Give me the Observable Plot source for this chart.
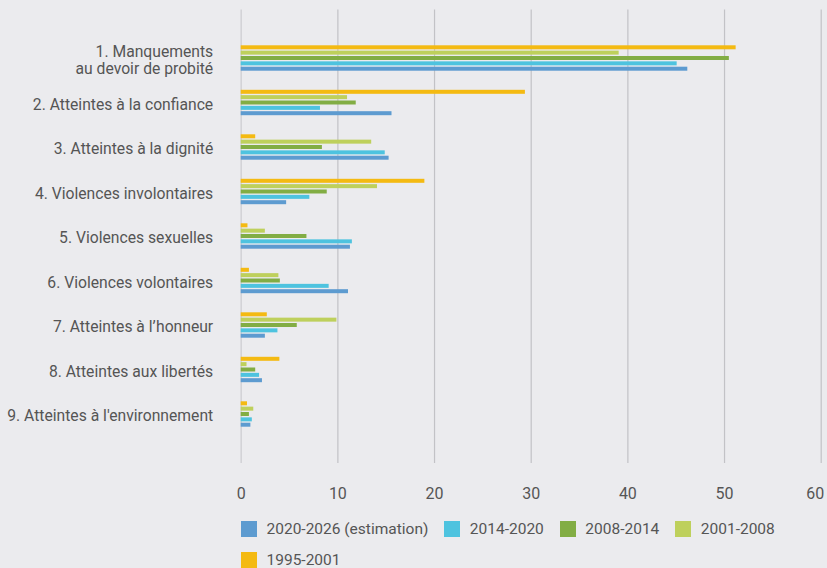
<!DOCTYPE html>
<html>
<head>
<meta charset="utf-8">
<script src="https://cdn.jsdelivr.net/npm/d3@7"></script>
<script src="https://cdn.jsdelivr.net/npm/@observablehq/plot@0.6"></script>
<style>
  html, body { margin: 0; padding: 0; background: #ebebee; }
  #chart { width: 827px; height: 568px; overflow: hidden; font-family: Roboto, sans-serif; }
  #legend { margin-left: 241px; margin-top: 4px; width: 586px; }
  .lg-swatches-wrap { display: flex; flex-wrap: wrap; align-items: center; min-height: 0 !important; }
  .lg-swatch { height: 30.5px; margin-right: 16px !important; font-family: Roboto, sans-serif; font-size: 15.5px; color: #555; }
  .lg-swatch svg { margin-right: 9.5px !important; }
</style>
</head>
<body>
<div id="chart"></div>
<script>
const categories = [
  "1. Manquements\nau devoir de probité",
  "2. Atteintes à la confiance",
  "3. Atteintes à la dignité",
  "4. Violences involontaires",
  "5. Violences sexuelles",
  "6. Violences volontaires",
  "7. Atteintes à l\u2019honneur",
  "8. Atteintes aux libertés",
  "9. Atteintes à l'environnement"
];
// series in legend order
const seriesNames = ["2020-2026 (estimation)", "2014-2020", "2008-2014", "2001-2008", "1995-2001"];
const colors = ["#5d9bd0", "#4ec3df", "#82ad44", "#bed05c", "#f4ba12"];

const v2020_2026 = [46.2, 15.6, 15.3, 4.7, 11.3, 11.1, 2.5, 2.2, 1.0];
const v2014_2020 = [45.1, 8.2, 14.9, 7.1, 11.5, 9.1, 3.8, 1.9, 1.15];
const v2008_2014 = [50.5, 11.9, 8.4, 8.9, 6.8, 4.05, 5.8, 1.5, 0.85];
const v2001_2008 = [39.1, 11.0, 13.5, 14.1, 2.5, 3.9, 9.9, 0.6, 1.3];
const v1995_2001 = [51.2, 29.4, 1.5, 19.0, 0.7, 0.85, 2.7, 4.0, 0.65];

const xTicks = [0, 10, 20, 30, 40, 50, 60];

const seriesValues = [v2020_2026, v2014_2020, v2008_2014, v2001_2008, v1995_2001];
const rows = [];
seriesNames.forEach((s, si) => {
  categories.forEach((c, ci) => rows.push({series: s, category: c, value: seriesValues[si][ci]}));
});

// vertical layout: top-to-bottom order within group is reversed legend order
const step = 44.5, barH = 4, barStep = 5.35, groupTop = 9.55;
const barMarks = seriesNames.map((s, si) => {
  const pos = seriesNames.length - 1 - si; // 0 = top (1995-2001)
  const insetTop = groupTop + barStep * pos;
  const insetBottom = step - insetTop - barH;
  return Plot.barX(rows.filter(d => d.series === s), {
    x: "value", y: "category", fill: "series", insetTop, insetBottom
  });
});

const lastTick = xTicks[xTicks.length - 1];

const chart = Plot.plot({
  width: 827,
  height: 510,
  marginLeft: 240.7,
  marginRight: 6.3,
  marginTop: 9.5,
  marginBottom: 47,
  style: {background: "transparent", fontFamily: "Roboto, sans-serif", fontSize: "16px", color: "#555"},
  x: {domain: [0, 60], label: null},
  y: {domain: categories, range: [35.75, 436.25], padding: 0, round: false, label: null},
  color: {domain: seriesNames, range: colors},
  marks: [
    Plot.ruleX(xTicks.filter(t => t !== 0), {stroke: "#c2c2c6", strokeWidth: 1.2}),
    Plot.ruleX([0], {stroke: "#d3d3d7", strokeWidth: 1.6}),
    ...barMarks,
    Plot.axisX(xTicks.filter(t => t !== lastTick), {tickSize: 0, tickPadding: 24, fontSize: 16, fill: "#555"}),
    Plot.axisX([lastTick], {tickSize: 0, tickPadding: 24, fontSize: 16, fill: "#555", dx: -6}),
    Plot.axisY({tickSize: 0, tickPadding: 28, fontSize: 15.7, fill: "#555", lineHeight: 1.06, dy: 1.5})
  ]
});

const legend = Plot.legend({
  color: {domain: seriesNames, range: colors},
  legend: "swatches",
  swatchWidth: 16,
  swatchHeight: 16,
  className: "lg"
});
const root = document.getElementById("chart");
root.appendChild(chart);
const ld = document.createElement("div");
ld.id = "legend";
ld.appendChild(legend);
root.appendChild(ld);
</script>
</body>
</html>
